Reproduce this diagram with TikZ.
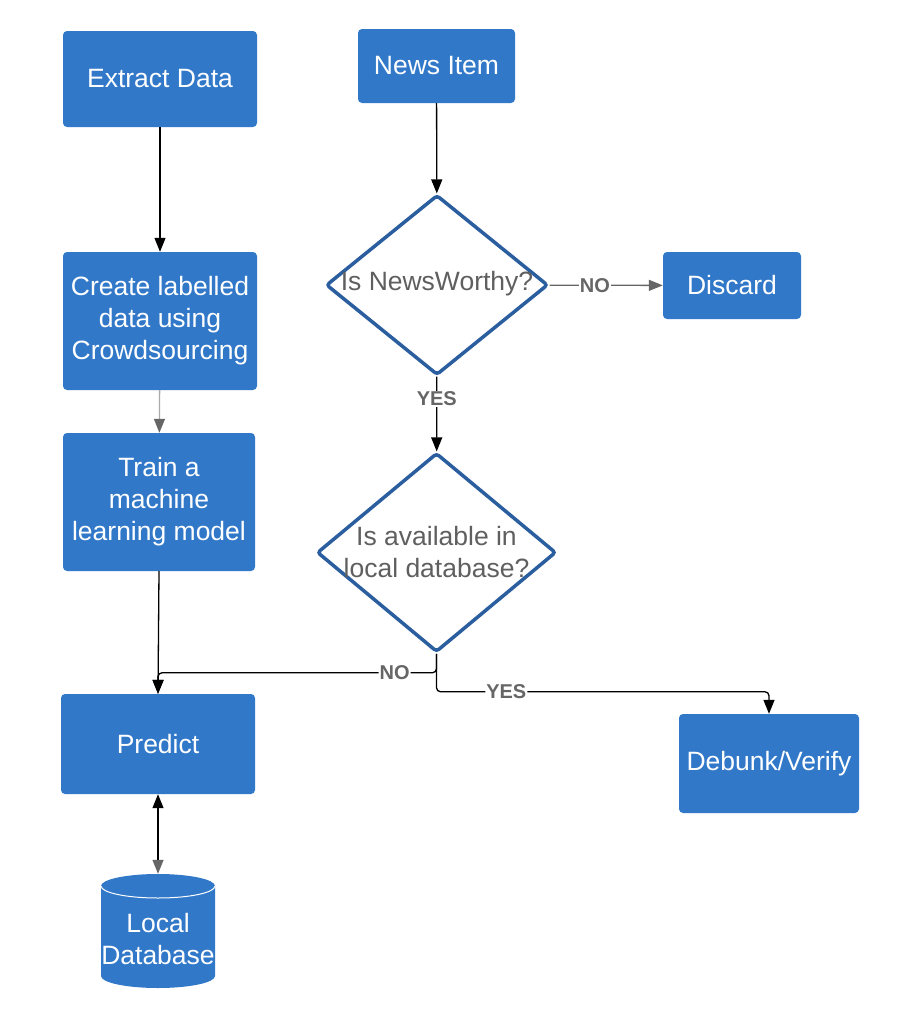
\documentclass[tikz,border=0pt]{standalone}
\usepackage{fontspec}
\setmainfont{Liberation Sans}
\usetikzlibrary{shapes.geometric,arrows.meta}
\definecolor{boxblue}{RGB}{49,120,201}
\definecolor{dborder}{RGB}{43,94,158}
\definecolor{dtext}{RGB}{95,95,95}
\definecolor{lblgray}{RGB}{102,102,102}
\definecolor{lightline}{RGB}{170,170,170}
\begin{document}
\begin{tikzpicture}[x=1pt,y=1pt,
 box/.style={fill=boxblue, rounded corners=4pt, text=white, align=center, font=\fontsize{26.5}{32}\selectfont, inner sep=0pt},
 dec/.style={diamond, draw=dborder, line width=3.5pt, rounded corners=3pt, fill=white, inner sep=0pt},
 dtxt/.style={text=dtext, align=center, font=\fontsize{26.5}{32}\selectfont},
 lbl/.style={fill=white, text=lblgray, font=\bfseries\fontsize{20}{24}\selectfont, inner sep=1pt},
 arr/.style={line width=1.3pt, -{Triangle[length=14pt,width=11pt]}},
 garr/.style={line width=1.3pt, draw=lblgray, -{Triangle[length=14pt,width=11pt]}}
]
\useasboundingbox (0,0) rectangle (899,-1023);

\node[box, minimum width=194, minimum height=96] (extract) at (160,-79) {Extract Data};
\node[box, minimum width=157, minimum height=74] (news) at (436.5,-66) {News Item};
\node[dec, minimum width=222, minimum height=180] (d1) at (437,-285) {};
\node[dtxt] (d1t) at (437,-284) {Is NewsWorthy?};
\node[box, minimum width=138, minimum height=67] (discard) at (732,-285.5) {Discard};
\node[box, minimum width=194, minimum height=138] (create) at (160,-321) {Create labelled\\data using\\Crowdsourcing};
\node[box, minimum width=192, minimum height=138] (train) at (159,-502) {Train a\\machine\\learning model};
\node[dec, minimum width=239, minimum height=199] (d2) at (436.5,-552.5) {};
\node[dtxt] (d2t) at (436.5,-552) {Is available in\\local database?};
\node[box, minimum width=194, minimum height=100] (predict) at (158,-744) {Predict};
\node[box, minimum width=180, minimum height=99] (debunk) at (769,-763.5) {Debunk/Verify};

% cylinder
\fill[boxblue] (101,-886) -- (101,-976) arc[start angle=180,end angle=360,x radius=57,y radius=12] -- (215,-886) arc[start angle=0,end angle=180,x radius=57,y radius=12] -- cycle;
\draw[white, line width=1pt] (101,-886) arc[start angle=180,end angle=360,x radius=57,y radius=12];
\node[minimum width=114, minimum height=114, inner sep=0pt] (db) at (158,-931) {};
\node[text=white, align=center, font=\fontsize{26.5}{32}\selectfont] (dbt) at (158,-939) {Local\\Database};

% connectors
\draw[arr] (extract) -- (create);
\draw[line width=1.3pt, draw=lightline, -{Triangle[length=14pt,width=11pt,color=lblgray]}] (create) -- (train);
\draw[arr] (train.south) -- (predict.north);
\draw[arr] (news) -- (d1);
\draw[garr] (d1) -- node[lbl, pos=0.4]{NO} (discard);
\draw[arr] (d1) -- node[lbl, pos=0.3]{YES} (d2);
\draw[arr, rounded corners=4pt] (d2.south) -- ++(0,-19) -| node[lbl, pos=0.075]{NO} (predict.north);
\draw[arr, rounded corners=4pt] (d2.south) -- ++(0,-38) -| node[lbl, pos=0.105]{YES} (debunk.north);
\draw[line width=1.3pt, {Triangle[length=14pt,width=11pt]}-{Triangle[length=14pt,width=11pt,color=lblgray]}] (predict) -- (db);
\end{tikzpicture}
\end{document}
